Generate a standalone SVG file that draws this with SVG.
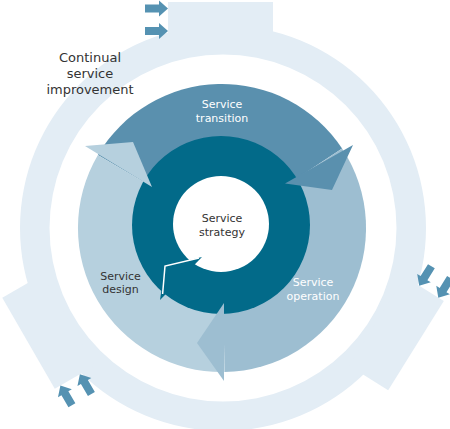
<svg xmlns="http://www.w3.org/2000/svg" xmlns:xlink="http://www.w3.org/1999/xlink" width="450" height="429" viewBox="0 0 450 429">
  <style>
    .ring { fill: #e3edf5; }
    .small-arrow { fill: #5592b2; }
    .transition { fill: #5a90ae; }
    .operation { fill: #9dbed1; }
    .design { fill: #b6d0de; }
    .strategy { fill: #026a89; }
    .lbl { font-family: "DejaVu Sans", "Liberation Sans", sans-serif; text-anchor: middle; }
    .dark { fill: #333333; }
    .light { fill: #ffffff; }
  </style>
  <defs>
    <rect id="tab" x="168" y="2" width="105" height="46"/>
    <g id="arrowPair">
      <polygon points="145,4.5 159,4.5 159,0.5 168,8.5 159,16.5 159,12.5 145,12.5"/>
      <polygon points="145,27 159,27 159,23 168,31 159,39 159,35 145,35"/>
    </g>
  </defs>

  <g id="continual-service-improvement">
    <path class="ring" fill-rule="evenodd" d="M 20,228 A 203,203 0 1 1 426,228 A 203,203 0 1 1 20,228 Z M 49.5,228 A 173.5,173.5 0 1 0 396.5,228 A 173.5,173.5 0 1 0 49.5,228 Z"/>
    <use xlink:href="#tab" class="ring"/>
    <use xlink:href="#tab" class="ring" transform="rotate(122 223 228)"/>
    <use xlink:href="#tab" class="ring" transform="rotate(240 223 228)"/>
    <text class="lbl dark" font-size="13" x="90" y="62">Continual</text>
    <text class="lbl dark" font-size="13" x="90" y="78">service</text>
    <text class="lbl dark" font-size="13" x="90" y="94">improvement</text>
  </g>

  <g id="connectors">
    <g class="small-arrow">
      <use xlink:href="#arrowPair"/>
      <use xlink:href="#arrowPair" transform="rotate(122 223 228)"/>
      <use xlink:href="#arrowPair" transform="rotate(240 223 228)"/>
    </g>
  </g>

  <g id="service-transition">
    <path class="transition" d="M 222,228 L 97.9,154.9 A 144,144 0 0 1 342.1,148.5 Z"/>
  </g>
  <g id="service-operation">
    <path class="operation" d="M 222,228 L 342.1,148.5 A 144,144 0 0 1 224.5,372 Z"/>
  </g>
  <g id="service-design">
    <path class="design" d="M 222,228 L 224.5,372 A 144,144 0 0 1 97.9,154.9 Z"/>
  </g>

  <g id="service-strategy">
    <circle class="strategy" cx="221" cy="225" r="89"/>
  </g>

  <g id="arrowheads">
    <polygon class="transition" points="353,145 332,190 285,183.5"/>
    <polygon class="operation" points="224,303 197,343 224,381"/>
    <polygon class="design" points="85,146 133,142 152,187"/>
  </g>

  <g id="strategy-core">
    <circle fill="#ffffff" cx="221" cy="224" r="48"/>
    <polygon class="strategy" points="160,300 165,266 202,257"/>
    <polyline points="162.6,294 165,266 199,258" fill="none" stroke="#ffffff" stroke-width="1.5"/>
  </g>

  <g id="labels">
    <text class="lbl light" font-size="11" x="222" y="108">Service</text>
    <text class="lbl light" font-size="11" x="222" y="121.5">transition</text>
    <text class="lbl dark" font-size="11" x="222" y="222">Service</text>
    <text class="lbl dark" font-size="11" x="222" y="235.5">strategy</text>
    <text class="lbl dark" font-size="11" x="120.5" y="279.5">Service</text>
    <text class="lbl dark" font-size="11" x="120.5" y="293">design</text>
    <text class="lbl light" font-size="11" x="313" y="286">Service</text>
    <text class="lbl light" font-size="11" x="313" y="299.5">operation</text>
  </g>
</svg>
